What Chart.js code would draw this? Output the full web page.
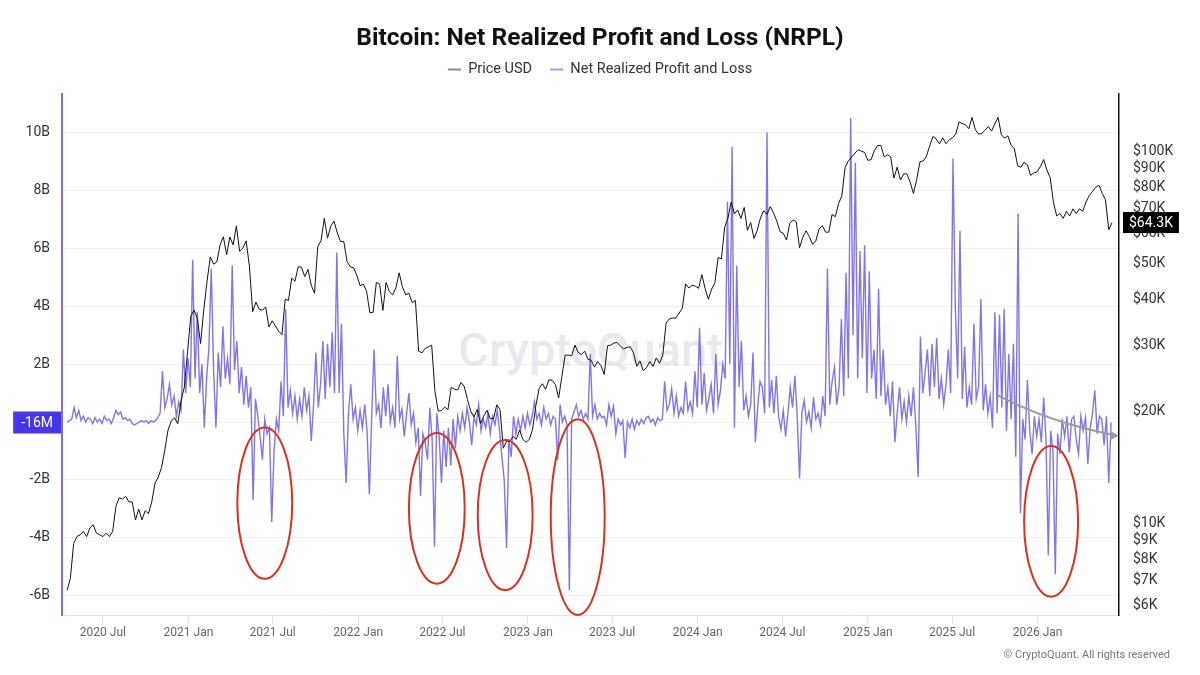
<!DOCTYPE html>
<html>
<head>
<meta charset="utf-8">
<title>Bitcoin: Net Realized Profit and Loss (NRPL)</title>
<script src="https://cdn.jsdelivr.net/npm/chart.js@4.4.1/dist/chart.umd.min.js"></script>
<style>
  html, body { margin: 0; padding: 0; background: #fff; }
  #wrap { width: 1200px; height: 675px; }
</style>
</head>
<body>
<div id="wrap"><canvas id="nrplChart" width="1200" height="675"></canvas></div>
<script>
// ---- data ----
// BTC price, weekly (USD thousands), starting 2020-04-15
const priceStart = "2020-04-15";
const priceStepDays = 7;
const priceUsdK = [
  // 2020
  6.6, 7.1, 8.8, 9.2, 9.3, 9.5, 9.2, 9.7, 9.9, 9.4, 9.3, 9.2, 9.4, 9.2, 9.5, 11.1, 11.7, 11.6, 11.8,
  11.4, 11.4, 10.2, 10.9, 10.2, 10.8, 10.6, 11.4, 12.8, 13.3, 14.1, 15.7, 17.8, 18.8, 19.2, 18.5, 21.3, 23.2, 28.9,
  // 2021
  36, 37.4, 35.5, 30.4, 37.6, 44.8, 52, 49.7, 50.4, 56, 58.9, 52.7, 58.8, 56, 63, 53.8, 54.9, 57.4, 49.1, 37,
  39.3, 37.6, 37.4, 38.1, 33.7, 35, 33.9, 32.8, 32.1, 40, 39.7, 45.6, 44.7, 48.9, 48.8, 46, 48.1, 43.6, 41.5, 55.4,
  57.4, 66, 58.4, 62.9, 64.9, 60.3, 57.1, 57.2, 50.5, 48.9, 48.6, 46.4,
  // 2022
  43.5, 43.9, 42, 36.8, 36.9, 44.4, 43.9, 37.3, 44.4, 41.9, 41.1, 42.9, 47.1, 43.2, 41.1, 41.5, 39.2, 39.7, 29, 28.7,
  29.5, 29.8, 30.1, 22.6, 20, 20.1, 20.5, 20.2, 23.2, 22.9, 22.8, 23.9, 23.3, 21.5, 20, 19.3, 20.2, 18.5, 19.4, 20.1,
  19.1, 19.1, 20.8, 20.2, 15.9, 16.6, 16.6, 17.1, 16.8, 17.8, 16.8, 16.5,
  // 2023
  16.8, 17.9, 20.7, 23, 23.7, 22.9, 24.3, 24.2, 23.6, 21.7, 24.8, 28.3, 28.3, 28.2, 30.1, 28.8, 28.4, 29, 27.6, 27.4,
  26.3, 27.2, 26.5, 25.1, 30, 30.1, 30.5, 30.6, 29.9, 29.4, 29.7, 29.8, 28.7, 26.4, 27.3, 25.7, 26.2, 27.2, 26.4, 27.8,
  26.9, 28.3, 34.5, 35.4, 35.6, 35.6, 36.7, 37.8, 44, 42.9, 43.6, 43.4,
  // 2024
  42.8, 46.6, 42.7, 40, 42.6, 44.3, 51.8, 51.3, 62.5, 66, 73, 67.9, 69.5, 66, 70.6, 61.3, 64.3, 58.3, 61.2, 66.2,
  69.2, 67.6, 71, 68.2, 65, 60.8, 60.2, 57.7, 64, 65.4, 64.6, 55, 58.7, 61.1, 59, 56.2, 57.4, 61.8, 63.1, 60.6,
  60.6, 67.6, 66.7, 72.3, 75.9, 90.4, 94.3, 96.4, 98.8, 101, 100, 99.3,
  // 2025
  94.5, 95, 100.5, 103.6, 103.7, 96.6, 97.8, 96.6, 84.7, 90.6, 83.7, 86.9, 86.9, 82.5, 77, 84, 93.7, 94.2, 97, 103.5,
  109.6, 107.8, 104.7, 108.7, 104.8, 107.4, 108.8, 111.3, 119.8, 118.7, 117.8, 115, 123.3, 114.3, 111.2, 111.7, 113.9,
  116.5, 113.3, 118.6, 123.3, 110.8, 108.5, 110, 103.8, 101.6, 91.5, 90.5, 93.4, 92, 86.1, 87.5, 88,
  // 2026
  91, 95, 89, 85, 73, 67, 68, 66, 69, 67, 70, 68, 70, 69, 73, 76, 78, 80, 81, 77, 74, 61.5, 64.3
];

// Net realized profit and loss, every 5 days (USD billions), starting 2020-04-15
const nrplStart = "2020-04-15";
const nrplStepDays = 5;
const nrplB = [
  0.0, 0.05, 0.1, 0.5, 0.15, 0.4, 0.05, 0.2, 0.0, 0.15,
  0.1, -0.05, 0.15, 0.0, 0.1, -0.05, 0.2, 0.05, 0.1, -0.05,
  0.15, 0.4, 0.25, 0.35, 0.1, 0.15, 0.05, 0.1, -0.05, -0.1,
  -0.05, 0.0, 0.05, 0.0, 0.05, -0.05, 0.05, 0.0, 0.05, 0.15,
  0.3, 1.75, 0.5, 0.8, 1.3, 0.6, 0.9, 0.2, 0.7, 0.4,
  2.5, 1.0, 2.2, 1.2, 5.6, 1.5, 3.8, 1.0, 2.0, -0.2,
  1.5, 2.6, 5.3, 1.8, -0.2, 2.4, 1.2, 3.3, 1.5, 2.2,
  1.3, 5.4, 1.8, 2.8, 1.0, 1.9, 0.6, 1.6, 0.5, 1.2,
  -2.7, 0.8, 0.2, -0.5, -1.3, 0.1, -0.4, -0.2, -3.45, -1.0,
  0.1, -0.3, 1.4, 0.2, 3.9, 0.5, 1.1, 0.3, 0.9, 0.1,
  0.8, 0.2, 1.2, 0.4, 0.9, -0.65, 0.6, 2.4, 0.5, 1.3,
  2.8, 0.8, 2.7, 1.2, 3.1, 1.0, 5.85, 1.0, 3.4, -0.4,
  -2.1, 0.3, 1.3, 0.1, 0.5, -0.3, 0.4, -0.2, 0.6, -0.3,
  -2.5, 0.2, 2.5, 0.3, 0.6, -0.2, 1.2, 0.2, 1.3, 0.0,
  0.5, -0.2, 2.3, 0.1, 0.45, -0.5, 0.3, 1.0, -0.1, 0.3,
  -0.7, -0.2, -2.55, -0.4, -0.7, -1.3, 0.5, -0.6, -4.3, 0.3,
  -0.5, -2.1, -0.3, -1.55, -0.2, -1.5, 0.1, -0.9, 0.2, -0.3,
  0.3, -0.2, 0.5, 0.0, -0.8, 0.2, -0.1, 0.6, -0.3, 0.1,
  -0.2, 0.3, -0.4, 0.2, -0.1, 0.4, -0.3, -1.2, -2.0, -4.35,
  -0.6, -1.2, 0.2, -0.4, 0.1, -0.3, 0.2, -0.2, 0.3, -0.1,
  0.2, 0.7, 0.1, 0.3, -0.1, 0.5, 0.1, 0.3, -0.1, 0.2,
  0.1, -1.3, 0.6, 0.0, 0.2, -0.1, -5.8, 0.1, 0.35, 0.6,
  0.2, 0.4, 0.1, 0.3, 0.1, 2.35, 0.2, 0.6, 0.1, 0.3,
  0.15, 0.2, -0.1, 0.6, 0.2, 0.55, -0.4, 0.1, -0.1, 0.05,
  -1.25, 0.0, -0.2, 0.1, -0.25, 0.05, -0.1, 0.1, -0.05, 0.15,
  0.2, 0.0, 0.1, -0.1, 0.15, 0.05, 0.1, 1.4, 0.4, 0.6,
  1.15, 0.3, 0.9, 0.2, 0.5, 0.3, 1.4, 0.4, 0.7, 0.3,
  1.75, 0.5, 3.25, 0.6, 1.7, 0.4, 0.8, 1.3, 0.3, 2.35,
  0.6, 1.1, 2.0, 1.5, 7.6, 2.0, 9.5, -0.2, 5.4, 1.2,
  2.8, 0.4, 0.9, 0.2, 0.6, 2.4, -0.7, 0.5, 1.4, 1.2,
  0.3, 10.0, 0.5, 1.45, 0.3, 1.6, 0.2, -0.25, 0.4, -0.5,
  0.3, 1.2, 0.5, 1.6, 0.2, -1.95, 0.3, 0.75, 0.0, 0.35,
  -0.2, 0.85, 0.1, 0.3, -0.1, 0.9, 0.2, 5.3, 0.6, 1.4,
  1.9, 0.6, 1.2, 3.55, 0.9, 5.15, 1.5, 10.5, 3.0, 8.95,
  1.5, 5.9, 2.2, 6.1, 1.0, 5.2, 1.5, 2.5, 0.8, 4.6,
  0.9, 2.5, 0.6, 1.2, 0.2, 1.4, -0.7, 0.3, 1.2, 0.1,
  0.7, 0.0, 0.9, 0.2, 1.2, -0.1, -1.9, 2.95, 1.0, 1.7,
  2.5, 0.9, 2.7, 1.2, 2.9, 0.8, 1.5, 0.6, 1.3, 2.5,
  1.0, 9.1, 4.0, 1.5, 6.6, 0.8, 2.6, 0.5, 1.2, 0.6,
  3.4, 0.8, 1.2, 4.25, 0.4, 1.3, 0.3, 0.9, -0.2, 3.8,
  0.3, 3.7, 0.5, 3.9, -0.3, 2.35, 0.1, 2.7, -1.2, 7.2,
  -3.15, 0.1, -0.6, 1.45, -0.3, -1.1, 0.2, -0.5, 0.1, -0.7,
  0.85, -0.6, -4.6, -0.3, -1.0, -5.25, -0.4, -1.1, 0.1, -0.5,
  0.2, -1.05, 0.1, 0.2, -0.6, -1.1, 0.2, -0.3, 0.15, -1.45,
  -0.2, 0.3, 1.1, -0.4, 0.2, 0.1, -0.8, 0.2, -2.1, -0.016
];

// axis ticks
const xTickMonths = ["2020-07", "2021-01", "2021-07", "2022-01", "2022-07", "2023-01", "2023-07",
  "2024-01", "2024-07", "2025-01", "2025-07", "2026-01"];
const nrplTicksB = [-6, -4, -2, 0, 2, 4, 6, 8, 10];
const priceTicksK = [6, 7, 8, 9, 10, 20, 30, 40, 50, 60, 70, 80, 90, 100];

// red circles and the grey arrow drawn on top (centre date, centre value in B, half width in days, half height in B)
const lossCircles = [
  { date: "2021-06-14", value: -2.8, days: 59, height: 2.61 },
  { date: "2022-06-19", value: -2.98, days: 60, height: 2.6 },
  { date: "2022-11-13", value: -3.21, days: 59, height: 2.59 },
  { date: "2023-04-18", value: -3.28, days: 58, height: 3.38 },
  { date: "2026-01-30", value: -3.43, days: 58, height: 2.6 }
];
const trendArrow = [
  { date: "2025-10-06", value: 0.93 },
  { date: "2026-02-01", value: 0.17 },
  { date: "2026-06-25", value: -0.47 }
];

const DAY = 86400000;
const xMin = Date.UTC(2020, 3, 4);
const xMax = Date.UTC(2026, 5, 25);

function toPoints(start, step, values) {
  const t0 = Date.parse(start);
  return values.map((v, i) => ({ x: t0 + i * step * DAY, y: v }));
}

const FONT = "Roboto";
const NRPL_COLOR = "rgba(116, 102, 232, 0.9)";

const watermark = {
  id: "watermark",
  beforeDatasetsDraw(chart) {
    const { ctx, chartArea } = chart;
    ctx.save();
    ctx.font = "500 47px " + FONT;
    ctx.fillStyle = "rgba(205, 205, 218, 0.45)";
    ctx.textAlign = "center";
    ctx.textBaseline = "middle";
    ctx.fillText("CryptoQuant", (chartArea.left + chartArea.right) / 2, (chartArea.top + chartArea.bottom) / 2);
    ctx.restore();
  }
};

const markup = {
  id: "markup",
  afterDatasetsDraw(chart) {
    const { ctx } = chart;
    const xs = chart.scales.x;
    const ys = chart.scales.nrpl;
    ctx.save();
    ctx.strokeStyle = "#d8331f";
    ctx.lineWidth = 2;
    lossCircles.forEach((c) => {
      const t = Date.parse(c.date);
      const cx = xs.getPixelForValue(t);
      const cy = ys.getPixelForValue(c.value);
      const rx = xs.getPixelForValue(t + c.days * DAY) - cx;
      const ry = ys.getPixelForValue(c.value - c.height) - cy;
      ctx.beginPath();
      ctx.ellipse(cx, cy, rx, ry, 0, 0, Math.PI * 2);
      ctx.stroke();
    });

    // grey arrow
    const p = trendArrow.map((a) => ({ x: xs.getPixelForValue(Date.parse(a.date)), y: ys.getPixelForValue(a.value) }));
    ctx.strokeStyle = "#9b9b9b";
    ctx.fillStyle = "#9b9b9b";
    ctx.lineWidth = 2;
    ctx.beginPath();
    ctx.moveTo(p[0].x, p[0].y);
    ctx.quadraticCurveTo(p[1].x, p[1].y + 6, p[2].x - 6, p[2].y - 1);
    ctx.stroke();
    ctx.beginPath();
    ctx.moveTo(p[2].x, p[2].y);
    ctx.lineTo(p[2].x - 9, p[2].y - 5);
    ctx.lineTo(p[2].x - 8, p[2].y + 4);
    ctx.closePath();
    ctx.fill();
    ctx.restore();
  },
  afterDraw(chart) {
    const { ctx, chartArea } = chart;
    ctx.save();
    ctx.font = "14px " + FONT;
    ctx.textBaseline = "middle";

    // last NRPL value on the left axis
    const lastN = nrplB[nrplB.length - 1];
    const nText = Math.abs(lastN) < 1 ? Math.round(lastN * 1000) + "M" : lastN.toFixed(1) + "B";
    const ny = chart.scales.nrpl.getPixelForValue(lastN);
    const nw = ctx.measureText(nText).width + 16;
    ctx.fillStyle = "#4636e8";
    ctx.fillRect(chartArea.left - 1 - nw, ny - 11, nw, 22);
    ctx.fillStyle = "#fff";
    ctx.textAlign = "center";
    ctx.fillText(nText, chartArea.left - 1 - nw / 2, ny + 1);

    // last price on the right axis
    const lastP = priceUsdK[priceUsdK.length - 1];
    const pText = "$" + lastP.toFixed(1) + "K";
    const py = chart.scales.price.getPixelForValue(lastP);
    const pw = ctx.measureText(pText).width + 12;
    ctx.fillStyle = "#000";
    ctx.fillRect(chartArea.right + 4, py - 10.5, pw, 21);
    ctx.fillStyle = "#fff";
    ctx.fillText(pText, chartArea.right + 4 + pw / 2, py + 1);

    // copyright
    ctx.font = "11px " + FONT;
    ctx.fillStyle = "#777";
    ctx.textAlign = "right";
    ctx.fillText("\u00A9 CryptoQuant. All rights reserved", 1170, 655);
    ctx.restore();
  }
};

const legendColors = ["#8c8c8c", "#a39be6"];

new Chart(document.getElementById("nrplChart"), {
  type: "line",
  data: {
    datasets: [
      {
        label: "Price USD",
        data: toPoints(priceStart, priceStepDays, priceUsdK),
        yAxisID: "price",
        borderColor: "#111",
        borderWidth: 1,
        pointRadius: 0,
        tension: 0
      },
      {
        label: "Net Realized Profit and Loss",
        data: toPoints(nrplStart, nrplStepDays, nrplB),
        yAxisID: "nrpl",
        borderColor: NRPL_COLOR,
        borderWidth: 1.4,
        pointRadius: 0,
        tension: 0
      }
    ]
  },
  options: {
    responsive: false,
    animation: false,
    events: [],
    layout: { padding: 0 },
    plugins: {
      title: {
        display: true,
        text: "Bitcoin: Net Realized Profit and Loss (NRPL)",
        color: "#111",
        font: { family: FONT, size: 24.5, weight: "bold" },
        padding: { top: 24, bottom: -9.2 }
      },
      // empty subtitle used as a spacer between the legend and the plot
      subtitle: {
        display: true,
        text: "",
        weight: 500,
        font: { size: 4, lineHeight: 1 },
        padding: { top: 0, bottom: 2.8 }
      },
      legend: {
        labels: {
          usePointStyle: true,
          pointStyle: "line",
          pointStyleWidth: 13,
          padding: 18,
          color: "#333",
          font: { family: FONT, size: 14.5 },
          generateLabels: (chart) => chart.data.datasets.map((ds, i) => ({
            text: ds.label,
            strokeStyle: legendColors[i],
            fillStyle: legendColors[i],
            lineWidth: 2,
            pointStyle: "line",
            fontColor: "#333",
            hidden: false,
            datasetIndex: i
          }))
        }
      },
      tooltip: { enabled: false }
    },
    scales: {
      x: {
        type: "linear",
        min: xMin,
        max: xMax,
        afterBuildTicks: (s) => { s.ticks = xTickMonths.map((m) => ({ value: Date.parse(m + "-01") })); },
        afterFit: (s) => { s.height = 60; },
        grid: { drawOnChartArea: false, drawTicks: true, tickLength: 8, color: "#e2e2e2" },
        border: { color: "#e2e2e2", width: 1 },
        ticks: {
          color: "#666",
          font: { family: FONT, size: 12 },
          padding: 3,
          maxRotation: 0,
          autoSkip: false,
          callback: (v) => {
            const d = new Date(v);
            return d.getUTCFullYear() + (d.getUTCMonth() === 0 ? " Jan" : " Jul");
          }
        }
      },
      nrpl: {
        type: "linear",
        position: "left",
        min: -6.66,
        max: 11.34,
        afterBuildTicks: (s) => { s.ticks = nrplTicksB.map((v) => ({ value: v })); },
        afterFit: (s) => { s.width = 62; },
        grid: { color: "#f1f1f1", drawTicks: false },
        border: { color: "#7b6cf0", width: 2 },
        ticks: {
          color: "#333",
          font: { family: FONT, size: 14 },
          padding: 12,
          callback: (v) => (v === 0 ? "0" : v + "B")
        }
      },
      price: {
        type: "logarithmic",
        position: "right",
        min: 5.66,
        max: 143,
        afterBuildTicks: (s) => { s.ticks = priceTicksK.map((v) => ({ value: v })); },
        afterFit: (s) => { s.width = 81; },
        grid: { drawOnChartArea: false, drawTicks: false },
        border: { color: "#111", width: 1.5 },
        ticks: {
          color: "#333",
          font: { family: FONT, size: 14 },
          padding: 14,
          autoSkip: false,
          callback: (v) => "$" + v + "K"
        }
      }
    }
  },
  plugins: [watermark, markup]
});
</script>
</body>
</html>
